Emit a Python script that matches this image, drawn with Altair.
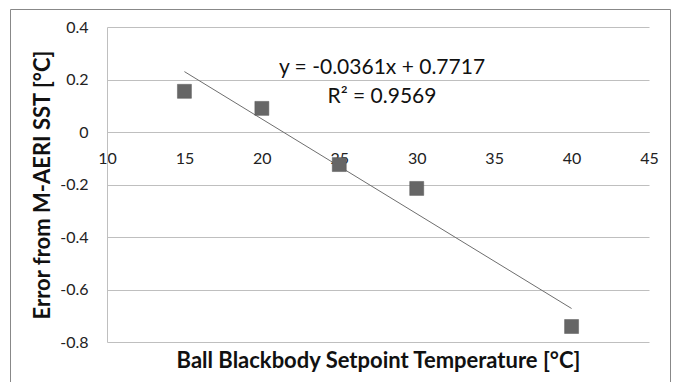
import altair as alt
import pandas as pd

setpoint = [15, 20, 25, 30, 40]
error = [0.155, 0.090, -0.124, -0.215, -0.741]
eq_lines = ["y = -0.0361x + 0.7717", "R² = 0.9569"]

df = pd.DataFrame({"x": setpoint, "y": error})
FONT = "Lato"
GRID = "#bfbfbf"

xscale = alt.Scale(domain=[10, 45], nice=False, zero=False)
yscale = alt.Scale(domain=[-0.8, 0.4], nice=False)

xaxis = alt.Axis(
    values=[10, 15, 20, 25, 30, 35, 40, 45], offset=-210, ticks=False, tickSize=0,
    labelPadding=26, labelBaseline="middle", labelFontSize=16, labelColor="#222",
    labelFont=FONT, grid=False, domain=True, domainColor=GRID,
    title="Ball Blackbody Setpoint Temperature [°C]", titleFont=FONT,
    titleFontSize=22, titleFontWeight="bold", titleColor="#111",
    titleY=228, titleBaseline="middle", labelFlush=False,
)
yaxis = alt.Axis(
    values=[-0.8, -0.6, -0.4, -0.2, 0, 0.2, 0.4], ticks=False, tickSize=0,
    labelPadding=19, labelFontSize=16, labelColor="#222", labelFont=FONT,
    format="~g", labelExpr="replace(datum.label, '\u2212', '-')",
    grid=True, gridColor=GRID, gridWidth=1, domain=True, domainColor=GRID,
    title="Error from M-AERI SST [°C]", titleFont=FONT, titleFontSize=22,
    titleFontWeight="bold", titleColor="#111", titleX=-65, titleY=157.5,
    titleBaseline="middle", titleAngle=270, orient="left",
)

base = alt.Chart(df)

points = base.mark_point(shape="square", filled=True, size=196, color="#666666", opacity=1,
                         stroke="#5a5a5a", strokeWidth=0.5).encode(
    x=alt.X("x:Q", scale=xscale, axis=xaxis),
    y=alt.Y("y:Q", scale=yscale, axis=yaxis),
)

trend = base.transform_regression("x", "y", extent=[15, 40]).mark_line(
    color="#6e6e6e", strokeWidth=1
).encode(x=alt.X("x:Q", scale=xscale), y=alt.Y("y:Q", scale=yscale))

eq_df = pd.DataFrame({"t": ["\n".join(eq_lines)]})
eq = alt.Chart(eq_df).mark_text(font=FONT, fontSize=21, color="#111", align="center",
                                baseline="middle", lineBreak="\n", lineHeight=29).encode(
    text="t:N",
    x=alt.value(275),
    y=alt.value(41),
)

frame = alt.Chart(pd.DataFrame({"a": [0]})).mark_rect(
    fill=None, stroke="#888888", strokeWidth=1
).encode(x=alt.value(-96.5), x2=alt.value(563.5), y=alt.value(-17.5), y2=alt.value(370))

chart = alt.layer(frame, trend, points, eq).properties(
    width=542, height=315,
    autosize=alt.AutoSizeParams(type="none"),
    padding={"left": 107, "top": 27, "right": 24, "bottom": 40},
    background="white",
).configure_view(stroke=None)

chart.save("out.html", embed_options={"renderer": "svg", "actions": False})
